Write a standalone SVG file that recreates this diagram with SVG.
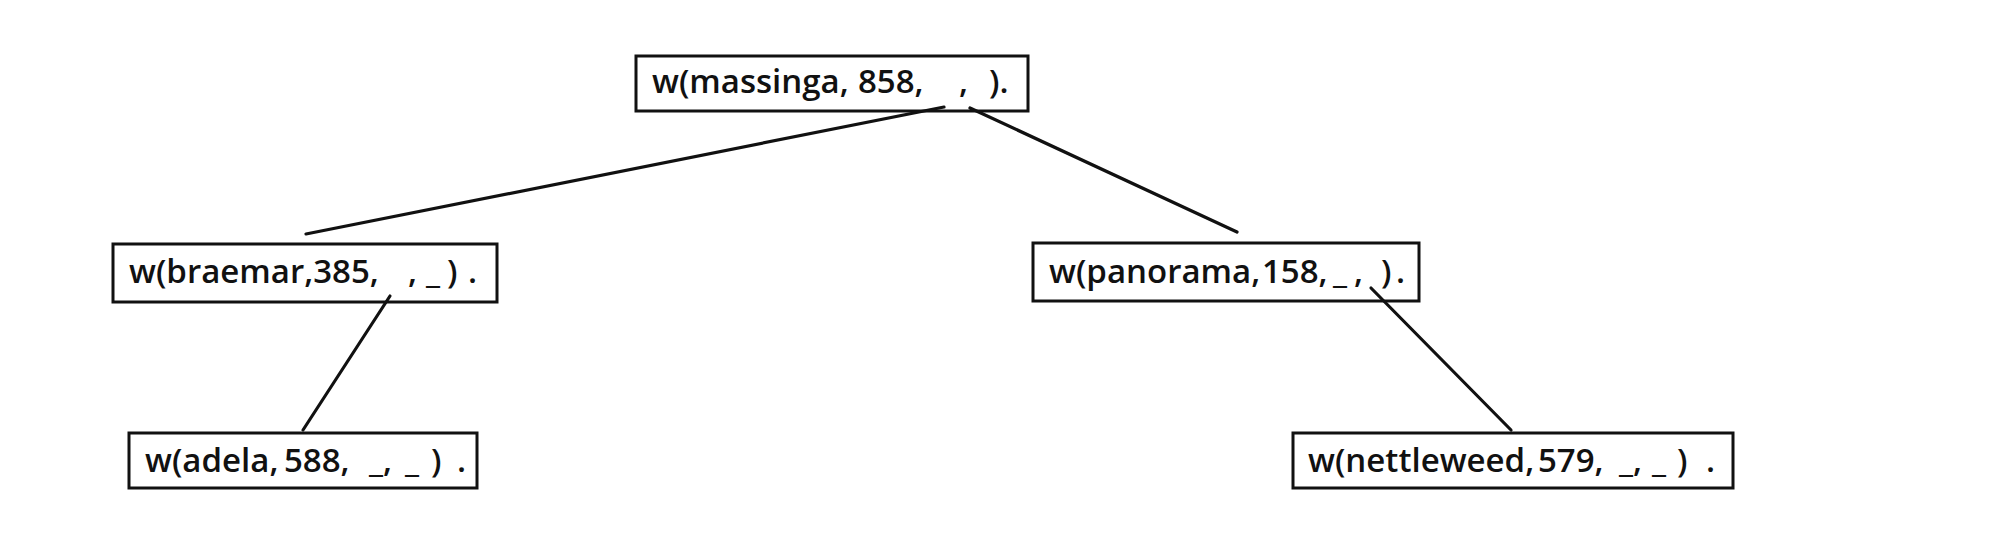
<svg xmlns="http://www.w3.org/2000/svg" width="2000" height="558" viewBox="0 0 2000 558">
<style>
  .box { fill: none; stroke: #111; stroke-width: 3; }
  .lbl { font-family: "Open Sans", "Noto Sans", sans-serif; font-size: 33px; font-weight: 600; fill: #111; }
  .edge { stroke: #111; stroke-width: 3.2; stroke-linecap: round; fill: none; }
</style>
<rect width="2000" height="558" fill="#fff"/>
<g id="connectors">
  <line class="edge" x1="944" y1="107" x2="306" y2="234"/>
  <line class="edge" x1="970" y1="108" x2="1237" y2="232"/>
  <line class="edge" x1="390" y1="296" x2="303" y2="430"/>
  <line class="edge" x1="1371" y1="288" x2="1511" y2="430"/>
</g>
<g id="node-massinga">
  <rect class="box" x="636" y="56" width="392" height="55"/>
  <text class="lbl" y="93"><tspan x="652">w(massinga,</tspan><tspan x="858">858,</tspan><tspan x="959">,</tspan><tspan x="989">).</tspan></text>
</g>
<g id="node-braemar">
  <rect class="box" x="113" y="244" width="384" height="58"/>
  <text class="lbl" y="283"><tspan x="129">w(braemar,385,</tspan><tspan x="408">,</tspan><tspan x="426">_</tspan><tspan x="447">)</tspan><tspan x="468">.</tspan></text>
</g>
<g id="node-panorama">
  <rect class="box" x="1033" y="243" width="386" height="58"/>
  <text class="lbl" y="283"><tspan x="1049">w(panorama,</tspan><tspan x="1262">158,</tspan><tspan x="1333">_</tspan><tspan x="1354">,</tspan><tspan x="1381">)</tspan><tspan x="1396">.</tspan></text>
</g>
<g id="node-adela">
  <rect class="box" x="129" y="433" width="348" height="55"/>
  <text class="lbl" y="472"><tspan x="145">w(adela,</tspan><tspan x="284">588,</tspan><tspan x="369">_,</tspan><tspan x="405">_</tspan><tspan x="431">)</tspan><tspan x="457">.</tspan></text>
</g>
<g id="node-nettleweed">
  <rect class="box" x="1293" y="433" width="440" height="55"/>
  <text class="lbl" y="472"><tspan x="1308">w(nettleweed,</tspan><tspan x="1538">579,</tspan><tspan x="1619">_,</tspan><tspan x="1652">_</tspan><tspan x="1677">)</tspan><tspan x="1706">.</tspan></text>
</g>
</svg>
